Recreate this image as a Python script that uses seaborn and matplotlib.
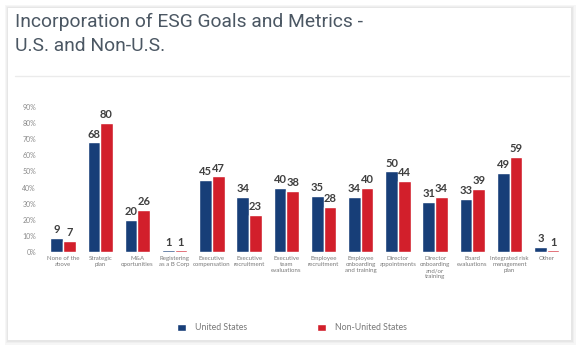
import matplotlib
matplotlib.use("Agg")
import matplotlib.pyplot as plt
import matplotlib.patches as mpatches
import seaborn as sns
import pandas as pd

categories = ["None of the\nabove", "Strategic\nplan", "M&A\noportunities", "Registering\nas a B Corp",
              "Executive\ncompensation", "Executive\nrecruitment", "Executive\nteam\nevaluations",
              "Employee\nrecruitment", "Employee\nonboarding\nand training", "Director\nappointments",
              "Director\nonboarding\nand/or\ntraining", "Board\nevaluations",
              "Integrated risk\nmanagement\nplan", "Other"]
us_values = [9, 68, 20, 1, 45, 34, 40, 35, 34, 50, 31, 33, 49, 3]
non_us_values = [7, 80, 26, 1, 47, 23, 38, 28, 40, 44, 34, 39, 59, 1]
series_names = ["United States", "Non-United States"]
yticks = [0, 10, 20, 30, 40, 50, 60, 70, 80, 90]
title = "Incorporation of ESG Goals and Metrics -\nU.S. and Non-U.S."

df = pd.DataFrame({
    "category": categories * 2,
    "value": us_values + non_us_values,
    "series": [series_names[0]] * len(categories) + [series_names[1]] * len(categories),
})

sns.set_theme(style="white")
plt.rcParams["font.family"] = ["Lato", "DejaVu Sans"]

W, H = 579, 349
fig = plt.figure(figsize=(W / 100, H / 100), dpi=100)
fig.patch.set_facecolor("white")

def px(x, y, w, h):
    return (x / W, 1 - (y + h) / H, w / W, h / H)

# soft card shadow + card
for off, col in [(6, "#f6f6f6"), (4, "#efefef"), (2, "#e6e6e6")]:
    x0, y0, w0, h0 = px(8 - off * 0.5, 8 - off * 0.5, 563 + off * 1.3, 332 + off * 1.3)
    fig.patches.append(mpatches.Rectangle((x0, y0), w0, h0, transform=fig.transFigure,
                                          facecolor=col, edgecolor="none", zorder=-3))
x0, y0, w0, h0 = px(8, 8, 563, 332)
fig.patches.append(mpatches.Rectangle((x0, y0), w0, h0, transform=fig.transFigure,
                                      facecolor="white", edgecolor="none", zorder=-2))
# separator
fig.add_artist(plt.Line2D([15 / W, 569 / W], [1 - 76 / H, 1 - 76 / H], transform=fig.transFigure,
                          color="#ebebeb", lw=1))

fig.text(15 / W, 1 - 13 / H, title, ha="left", va="top", fontsize=13.9, color="#4b5763",
         linespacing=1.4, family=["Roboto", "DejaVu Sans"])

left = 44.4
width = 521
bottom = 252
top = 107
ax = fig.add_axes([left / W, 1 - bottom / H, width / W, (bottom - top) / H])
ax.set_facecolor("none")

colors = ["#173e78", "#d21f2b"]
sns.barplot(data=df, x="category", y="value", hue="series", palette=colors, width=0.68,
            saturation=1, ax=ax, legend=True)

ax.set_ylim(0, 90)
ax.set_xlim(-0.5, len(categories) - 0.5)
ax.set_yticks(yticks)
ax.set_yticklabels([f"{t}%" for t in yticks], fontsize=5, color="#8a8a8a")
ax.tick_params(axis="x", labelsize=4.4, colors="#7a7a7a", length=0, pad=3)
ax.tick_params(axis="y", length=0, pad=6)
for lbl in ax.get_xticklabels():
    lbl.set_linespacing(1.25)
ax.set_xlabel("")
ax.set_ylabel("")
for s in ax.spines.values():
    s.set_visible(False)

for cont in ax.containers:
    ax.bar_label(cont, fmt="%d", padding=2, fontsize=8, color="#3f3f3f", fontweight="bold")

ax_w = width / W
ax_h = (bottom - top) / H
sns.move_legend(ax, "center", bbox_to_anchor=((292 / W - left / W) / ax_w, (1 - 328 / H - (1 - bottom / H)) / ax_h),
                ncol=2, frameon=False, title=None, fontsize=6.3, handlelength=1.0, handleheight=1.0,
                columnspacing=8.0, handletextpad=1.0)
for t in ax.get_legend().get_texts():
    t.set_color("#777777")

fig.savefig("out.png", dpi=100, facecolor="white")
